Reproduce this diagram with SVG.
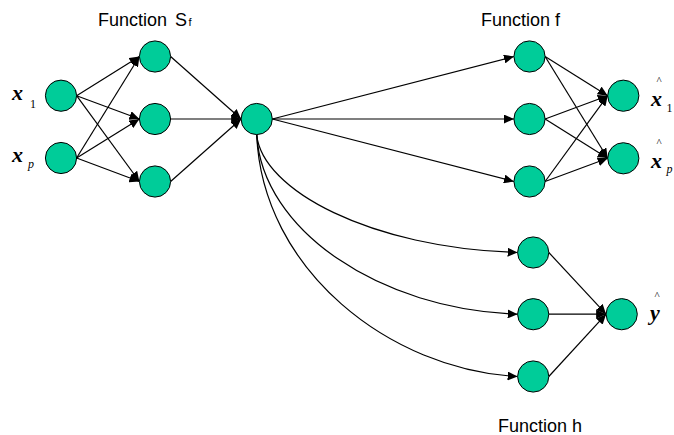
<svg xmlns="http://www.w3.org/2000/svg" width="674" height="435" viewBox="0 0 674 435">
<style>
.n{fill:#00CC99;stroke:#000;stroke-width:1}
.e{fill:none;stroke:#000;stroke-width:1.2;marker-end:url(#ah)}
.t{font-family:"Liberation Sans",Arial,sans-serif;font-size:18px;fill:#000}
.v{font-family:"Liberation Serif","Times New Roman",serif;font-style:italic;font-weight:bold;font-size:22px;fill:#000}
.s{font-family:"Liberation Serif","Times New Roman",serif;font-size:12px;fill:#000}
.h{font-family:"Liberation Serif","Times New Roman",serif;font-size:11px;fill:#000;text-anchor:middle}
</style>
<defs>
<marker id="ah" markerUnits="userSpaceOnUse" markerWidth="10" markerHeight="9" refX="10" refY="4.5" orient="auto">
<path d="M0,0 L10,4.5 L0,9 z" fill="#000"/>
</marker>
</defs>
<g id="connectors">
<line class="e" x1="76.6" y1="95.7" x2="139.4" y2="56.5"/>
<line class="e" x1="76.6" y1="95.7" x2="139.4" y2="119"/>
<line class="e" x1="76.6" y1="95.7" x2="139.4" y2="181.5"/>
<line class="e" x1="76.6" y1="158" x2="139.4" y2="56.5"/>
<line class="e" x1="76.6" y1="158" x2="139.4" y2="119"/>
<line class="e" x1="76.6" y1="158" x2="139.4" y2="181.5"/>
<line class="e" x1="170.6" y1="56.5" x2="241.1" y2="119"/>
<line class="e" x1="170.6" y1="119" x2="241.1" y2="119"/>
<line class="e" x1="170.6" y1="181.5" x2="241.1" y2="119"/>
<line class="e" x1="272.3" y1="119" x2="513.9" y2="56.5"/>
<line class="e" x1="272.3" y1="119" x2="513.9" y2="119"/>
<line class="e" x1="272.3" y1="119" x2="513.9" y2="181.5"/>
<line class="e" x1="545.1" y1="56.5" x2="607.7" y2="95.7"/>
<line class="e" x1="545.1" y1="56.5" x2="607.7" y2="158.3"/>
<line class="e" x1="545.1" y1="119" x2="607.7" y2="95.7"/>
<line class="e" x1="545.1" y1="119" x2="607.7" y2="158.3"/>
<line class="e" x1="545.1" y1="181.5" x2="607.7" y2="95.7"/>
<line class="e" x1="545.1" y1="181.5" x2="607.7" y2="158.3"/>
<line class="e" x1="548.8" y1="252.5" x2="606.1" y2="314.2"/>
<line class="e" x1="548.8" y1="314.2" x2="606.1" y2="314.2"/>
<line class="e" x1="548.8" y1="376.5" x2="606.1" y2="314.2"/>
<path class="e" d="M256.7,134.6 C262,190 370,248 517.6,252.5"/>
<path class="e" d="M256.7,134.6 C262,230 380,310 517.6,314.2"/>
<path class="e" d="M256.7,134.6 C262,270 390,370 517.6,376.5"/>
</g>
<g id="x1"><circle class="n" cx="61" cy="95.7" r="15.6"/></g>
<g id="xp"><circle class="n" cx="61" cy="158" r="15.6"/></g>
<g id="s1"><circle class="n" cx="155" cy="56.5" r="15.6"/></g>
<g id="s2"><circle class="n" cx="155" cy="119" r="15.6"/></g>
<g id="s3"><circle class="n" cx="155" cy="181.5" r="15.6"/></g>
<g id="c"><circle class="n" cx="256.7" cy="119" r="15.6"/></g>
<g id="f1"><circle class="n" cx="529.5" cy="56.5" r="15.6"/></g>
<g id="f2"><circle class="n" cx="529.5" cy="119" r="15.6"/></g>
<g id="f3"><circle class="n" cx="529.5" cy="181.5" r="15.6"/></g>
<g id="o1"><circle class="n" cx="623.3" cy="95.7" r="15.6"/></g>
<g id="o2"><circle class="n" cx="623.3" cy="158.3" r="15.6"/></g>
<g id="h1"><circle class="n" cx="533.2" cy="252.5" r="15.6"/></g>
<g id="h2"><circle class="n" cx="533.2" cy="314.2" r="15.6"/></g>
<g id="h3"><circle class="n" cx="533.2" cy="376.5" r="15.6"/></g>
<g id="yo"><circle class="n" cx="621.7" cy="314.2" r="15.6"/></g>
<g id="labels">
<text class="t" x="98" y="26">Function<tspan x="175">S</tspan><tspan x="188.5" font-size="11">f</tspan></text>
<text class="t" x="481" y="26">Function f</text>
<text class="t" x="498" y="432">Function h</text>
<text class="v" x="12" y="100">x</text><text class="s" x="30" y="108">1</text>
<text class="v" x="12" y="162">x</text><text class="s" x="28" y="168" font-style="italic">p</text>
<text class="h" x="659" y="84">^</text><text class="v" x="651" y="106">x</text><text class="s" x="666.5" y="112" font-size="9">1</text>
<text class="h" x="659" y="146">^</text><text class="v" x="651" y="168">x</text><text class="s" x="666.5" y="173" font-size="9" font-style="italic">p</text>
<text class="h" x="657" y="299">^</text><text class="v" x="650" y="320">y</text>
</g>
</svg>
